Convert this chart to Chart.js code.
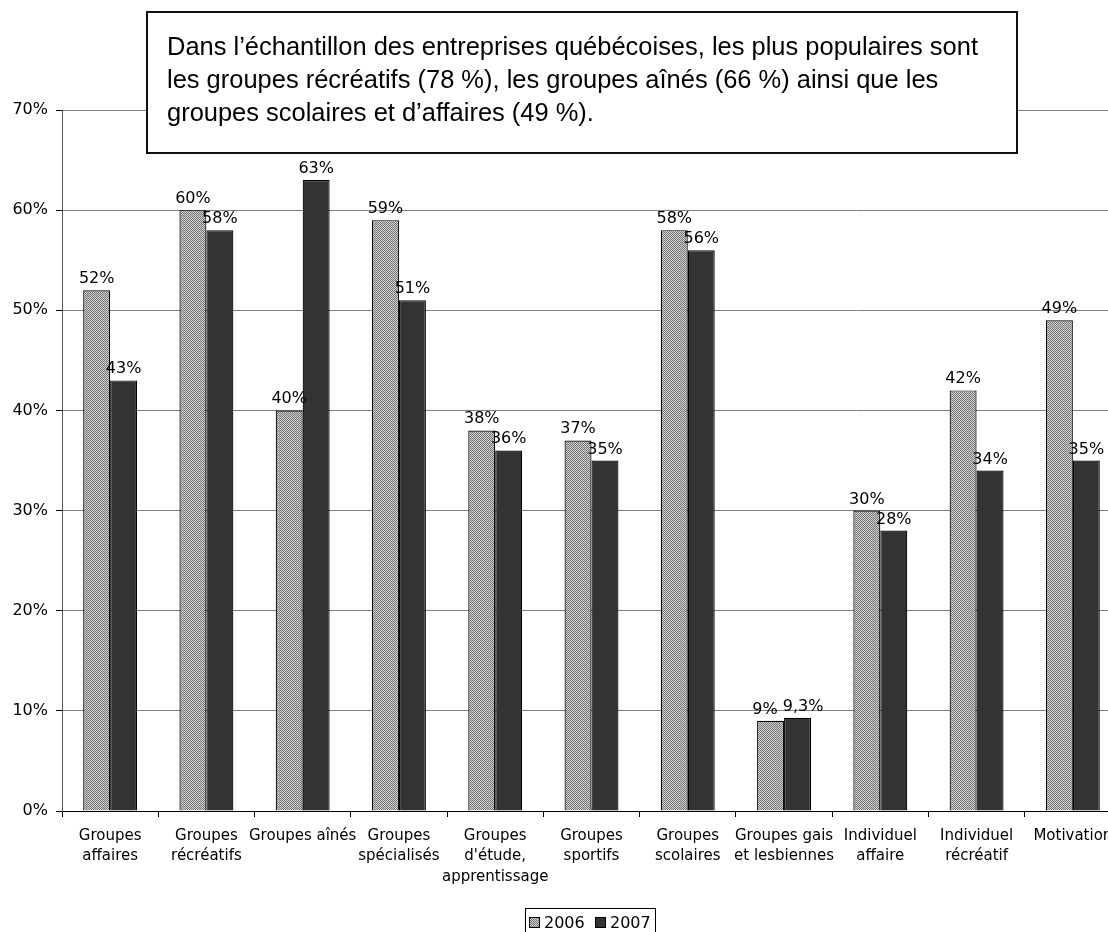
<!DOCTYPE html>
<html lang="fr">
<head>
<meta charset="utf-8">
<title>Types de clientèle 2006-2007</title>
<script src="https://cdn.jsdelivr.net/npm/chart.js@4/dist/chart.umd.min.js"></script>
<style>
  html, body { margin: 0; padding: 0; background: #fff; overflow: hidden; }
  #wrap { position: relative; width: 1124px; height: 932px; }
</style>
</head>
<body>
<div id="wrap"><canvas id="clientele"></canvas></div>
<script>
const categories = [
  ['Groupes', 'affaires'],
  ['Groupes', 'récréatifs'],
  'Groupes aînés',
  ['Groupes', 'spécialisés'],
  ['Groupes', "d'étude,", 'apprentissage'],
  ['Groupes', 'sportifs'],
  ['Groupes', 'scolaires'],
  ['Groupes gais', 'et lesbiennes'],
  ['Individuel', 'affaire'],
  ['Individuel', 'récréatif'],
  'Motivation'
];
const years = ['2006', '2007'];
const values2006 = [52, 60, 40, 59, 38, 37, 58, 9, 30, 42, 49];
const values2007 = [43, 58, 63, 51, 36, 35, 56, 9.3, 28, 34, 35];
const yTicks = [0, 10, 20, 30, 40, 50, 60, 70];

const note = [
  'Dans l’échantillon des entreprises québécoises, les plus populaires sont',
  'les groupes récréatifs (78 %), les groupes aînés (66 %) ainsi que les',
  'groupes scolaires et d’affaires (49 %).'
];

const FONT = "'DejaVu Sans', Verdana, sans-serif";

// fine dotted fill used for the 2006 bars
function ditherPattern() {
  const c = document.createElement('canvas');
  c.width = 2; c.height = 2;
  const g = c.getContext('2d');
  g.fillStyle = '#cfcfcf'; g.fillRect(0, 0, 2, 2);
  g.fillStyle = '#777777'; g.fillRect(0, 0, 1, 1); g.fillRect(1, 1, 1, 1);
  return g.createPattern(c, 'repeat');
}
const dotted = ditherPattern();
const dark = '#333333';

const pct = v => String(v).replace('.', ',') + '%';

// value labels above each bar, pushed apart when a pair would overlap
const valueLabels = {
  id: 'valueLabels',
  afterDatasetsDraw(chart) {
    const ctx = chart.ctx;
    ctx.save();
    ctx.font = '16px ' + FONT;
    ctx.fillStyle = '#000';
    ctx.textAlign = 'center';
    ctx.textBaseline = 'alphabetic';
    const m0 = chart.getDatasetMeta(0), m1 = chart.getDatasetMeta(1);
    for (let i = 0; i < categories.length; i++) {
      const a = m0.data[i], b = m1.data[i];
      const ta = pct(values2006[i]), tb = pct(values2007[i]);
      let xa = a.x, xb = b.x;
      const wa = ctx.measureText(ta).width, wb = ctx.measureText(tb).width;
      const ya = a.y - 7, yb = b.y - 7;
      const overlap = (xa + wa / 2 + 5) - (xb - wb / 2);
      if (overlap > 0 && Math.abs(ya - yb) < 16) { xa -= overlap / 2; xb += overlap / 2; }
      ctx.fillText(ta, xa, ya);
      ctx.fillText(tb, xb, yb);
    }
    ctx.restore();
  }
};

// comment box at the top and the framed legend at the bottom
const extras = {
  id: 'extras',
  afterDraw(chart) {
    const ctx = chart.ctx;
    ctx.save();
    // comment box
    const bx = 147, by = 12, bw = 870, bh = 141;
    ctx.fillStyle = '#fff';
    ctx.fillRect(bx, by, bw, bh);
    ctx.lineWidth = 2;
    ctx.strokeStyle = '#111';
    ctx.strokeRect(bx, by, bw, bh);
    ctx.fillStyle = '#000';
    ctx.font = "26px 'Liberation Sans Narrow', 'Liberation Sans', Arial, sans-serif";
    ctx.textAlign = 'left';
    ctx.textBaseline = 'alphabetic';
    const sx = 811 / ctx.measureText(note[0]).width;
    note.forEach((line, k) => {
      ctx.save();
      ctx.translate(167, 55 + k * 33);
      ctx.scale(sx, 1);
      ctx.fillText(line, 0, 0);
      ctx.restore();
    });

    // legend
    const lx = 525, ly = 908;
    ctx.fillStyle = '#fff';
    ctx.fillRect(lx, ly, 130, 30);
    ctx.lineWidth = 1;
    ctx.strokeStyle = '#000';
    ctx.strokeRect(lx + 0.5, ly + 0.5, 130, 30);
    ctx.font = '16px ' + FONT;
    const fills = [dotted, dark];
    years.forEach((y, k) => {
      const x = lx + 4 + k * 66;
      ctx.fillStyle = fills[k];
      ctx.fillRect(x, 917, 11, 11);
      ctx.strokeStyle = '#000';
      ctx.strokeRect(x + 0.5, 917.5, 10, 10);
      ctx.fillStyle = '#000';
      ctx.fillText(y, x + 15, 928);
    });
    ctx.restore();
  }
};

new Chart(document.getElementById('clientele'), {
  type: 'bar',
  data: {
    labels: categories,
    datasets: [
      { label: years[0], data: values2006, backgroundColor: dotted, borderColor: '#000', borderWidth: 1.2 },
      { label: years[1], data: values2007, backgroundColor: dark, borderColor: '#000', borderWidth: 1.2 }
    ]
  },
  options: {
    responsive: true,
    maintainAspectRatio: false,
    animation: false,
    events: [],
    layout: { padding: { top: 110, right: 3, left: 0, bottom: 0 } },
    datasets: { bar: { barPercentage: 1, categoryPercentage: 0.56 } },
    plugins: { legend: { display: false }, tooltip: { enabled: false } },
    scales: {
      x: {
        offset: true,
        grid: { offset: true, drawOnChartArea: false, drawTicks: true, tickLength: 6, tickColor: '#000' },
        border: { color: '#000', width: 1 },
        ticks: {
          color: '#000', font: { family: FONT, size: 15, lineHeight: 1.35 }, padding: 9,
          maxRotation: 0, minRotation: 0, autoSkip: false
        },
        afterFit(scale) { scale.height = 121; }
      },
      y: {
        min: 0, max: 70,
        afterBuildTicks(scale) { scale.ticks = yTicks.map(v => ({ value: v })); },
        grid: { color: '#808080', lineWidth: 1, tickLength: 6, tickColor: '#000' },
        border: { color: '#555', width: 1 },
        ticks: {
          color: '#000', font: { family: FONT, size: 16 }, padding: 8,
          callback: v => v + '%'
        },
        afterFit(scale) { scale.width = 62; }
      }
    }
  },
  plugins: [valueLabels, extras]
});
</script>
</body>
</html>
